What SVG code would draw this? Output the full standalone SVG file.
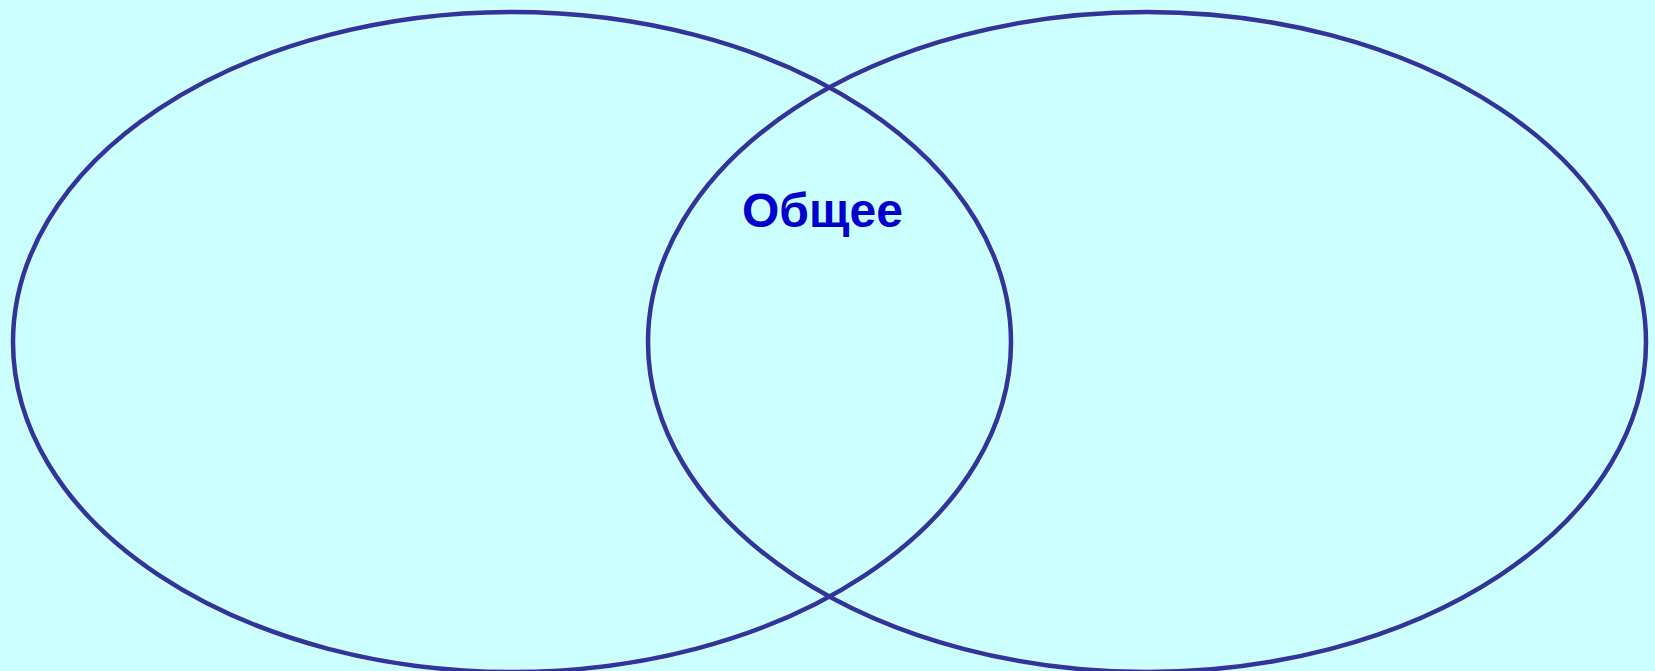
<svg xmlns="http://www.w3.org/2000/svg" width="1655" height="671" viewBox="0 0 1655 671">
<style>
.set{fill:none;stroke:#333399;stroke-width:4.5}
.lbl{font-family:"Liberation Sans",Arial,sans-serif;font-weight:bold;font-size:48px;fill:#0000CC}
</style>
<rect width="1655" height="671" fill="#CCFFFF"/>
<g id="left-set"><ellipse class="set" cx="512" cy="342" rx="499" ry="330"/></g>
<g id="right-set"><ellipse class="set" cx="1147" cy="342" rx="499" ry="330"/></g>
<g id="common-label"><text class="lbl" x="742" y="227">Общее</text></g>
<g id="connectors"></g>
</svg>
